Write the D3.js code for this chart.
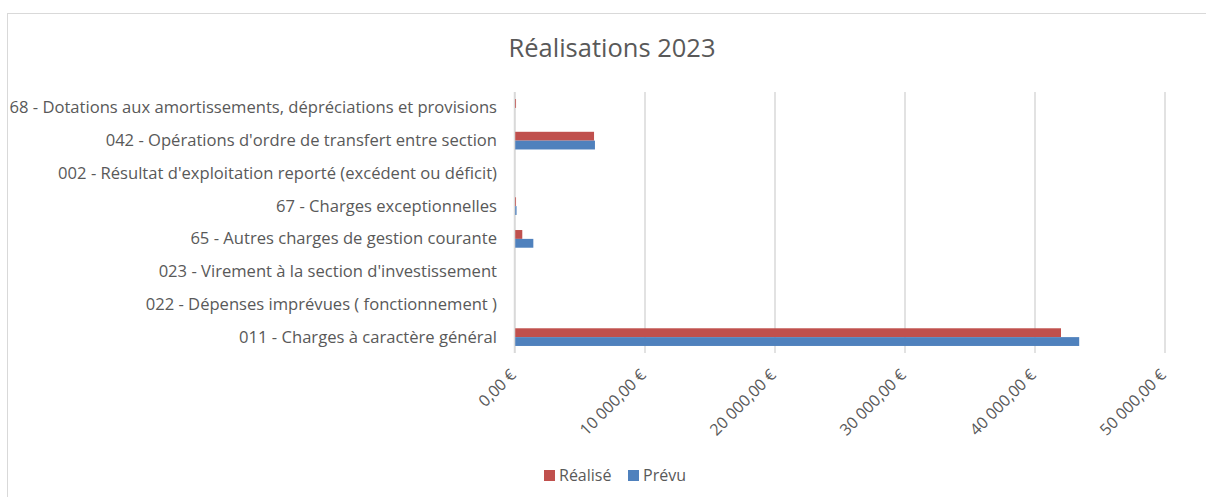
<!DOCTYPE html>
<html>
<head>
<meta charset="utf-8">
<script src="https://cdn.jsdelivr.net/npm/d3@7"></script>
<style>
  html, body { margin: 0; padding: 0; background: #fff; }
  svg { display: block; }
  text { font-family: "Open Sans", "Noto Sans", sans-serif; }
</style>
</head>
<body>
<svg id="chart" width="1206" height="497"></svg>
<script>
// Budget lines, listed from bottom (011) to top (68)
const categories = [
  "011 - Charges à caractère général",
  "022 - Dépenses imprévues ( fonctionnement )",
  "023 - Virement à la section d'investissement",
  "65 - Autres charges de gestion courante",
  "67 - Charges exceptionnelles",
  "002 - Résultat d'exploitation reporté (excédent ou déficit)",
  "042 - Opérations d'ordre de transfert entre section",
  "68 - Dotations aux amortissements, dépréciations et provisions"
];
const realise = [42000, 0, 0, 560, 80, 0, 6080, 80];
const prevu   = [43400, 0, 0, 1410, 120, 0, 6150, 0];
const seriesNames = ["Réalisé", "Prévu"];
const seriesColors = ["#C0504D", "#4F81BD"];
const tickValues = [0, 10000, 20000, 30000, 40000, 50000];
const title = "Réalisations 2023";

const svg = d3.select("#chart");

// outer chart frame
svg.append("rect")
  .attr("x", 7.5).attr("y", 13.5)
  .attr("width", 1220).attr("height", 500)
  .attr("fill", "#fff").attr("stroke", "#d9d9d9").attr("stroke-width", 1);

const plot = { left: 515, right: 1165, top: 92, bottom: 353 };

const x = d3.scaleLinear().domain([0, 50000]).range([plot.left, plot.right]);
const y = d3.scaleBand()
  .domain(categories.slice().reverse())
  .range([plot.top, plot.bottom])
  .paddingInner(0.46).paddingOuter(0.215);

// vertical gridlines
svg.append("g").selectAll("line").data(tickValues).join("line")
  .attr("x1", d => x(d)).attr("x2", d => x(d))
  .attr("y1", plot.top).attr("y2", plot.bottom)
  .attr("stroke", "#d9d9d9").attr("stroke-width", 1.5);

// value axis labels, rotated 45°
const fmt = v => d3.format(",.2f")(v).replace(/,/g, " ").replace(".", ",") + " €";
svg.append("g").selectAll("text").data(tickValues).join("text")
  .attr("transform", d => `translate(${x(d) + 2},${plot.bottom + 23}) rotate(-45)`)
  .attr("text-anchor", "end")
  .attr("font-size", 16)
  .attr("fill", "#595959")
  .text(fmt);

// bars
const sub = d3.scaleBand().domain(seriesNames).range([0, y.bandwidth()]);
[realise, prevu].forEach((vals, si) => {
  svg.append("g").selectAll("rect").data(vals.map((v, i) => ({ v, c: categories[i] })))
    .join("rect")
    .attr("x", x(0))
    .attr("y", d => y(d.c) + sub(seriesNames[si]))
    .attr("width", d => x(d.v) - x(0))
    .attr("height", sub.bandwidth())
    .attr("fill", seriesColors[si]);
});

// category axis line
svg.append("line")
  .attr("x1", x(0) - 0.5).attr("x2", x(0) - 0.5)
  .attr("y1", plot.top).attr("y2", plot.bottom)
  .attr("stroke", "#d9d9d9").attr("stroke-width", 1.5);

// category labels
svg.append("g").selectAll("text").data(categories).join("text")
  .attr("x", plot.left - 18)
  .attr("y", d => y(d) + y.bandwidth() / 2)
  .attr("dy", "0.33em")
  .attr("text-anchor", "end")
  .attr("font-size", 16.6)
  .attr("fill", "#595959")
  .text(d => d);

// title
svg.append("text")
  .attr("x", 612).attr("y", 57)
  .attr("text-anchor", "middle")
  .attr("font-size", 25.5)
  .attr("fill", "#595959")
  .text(title);

// legend
const legend = svg.append("g").attr("transform", "translate(544,470)");
[{ n: seriesNames[0], c: seriesColors[0], x: 0 }, { n: seriesNames[1], c: seriesColors[1], x: 84 }]
  .forEach(it => {
    legend.append("rect").attr("x", it.x).attr("y", 0).attr("width", 11).attr("height", 11).attr("fill", it.c);
    legend.append("text").attr("x", it.x + 15).attr("y", 11)
      .attr("font-size", 16).attr("fill", "#595959").text(it.n);
  });
</script>
</body>
</html>
